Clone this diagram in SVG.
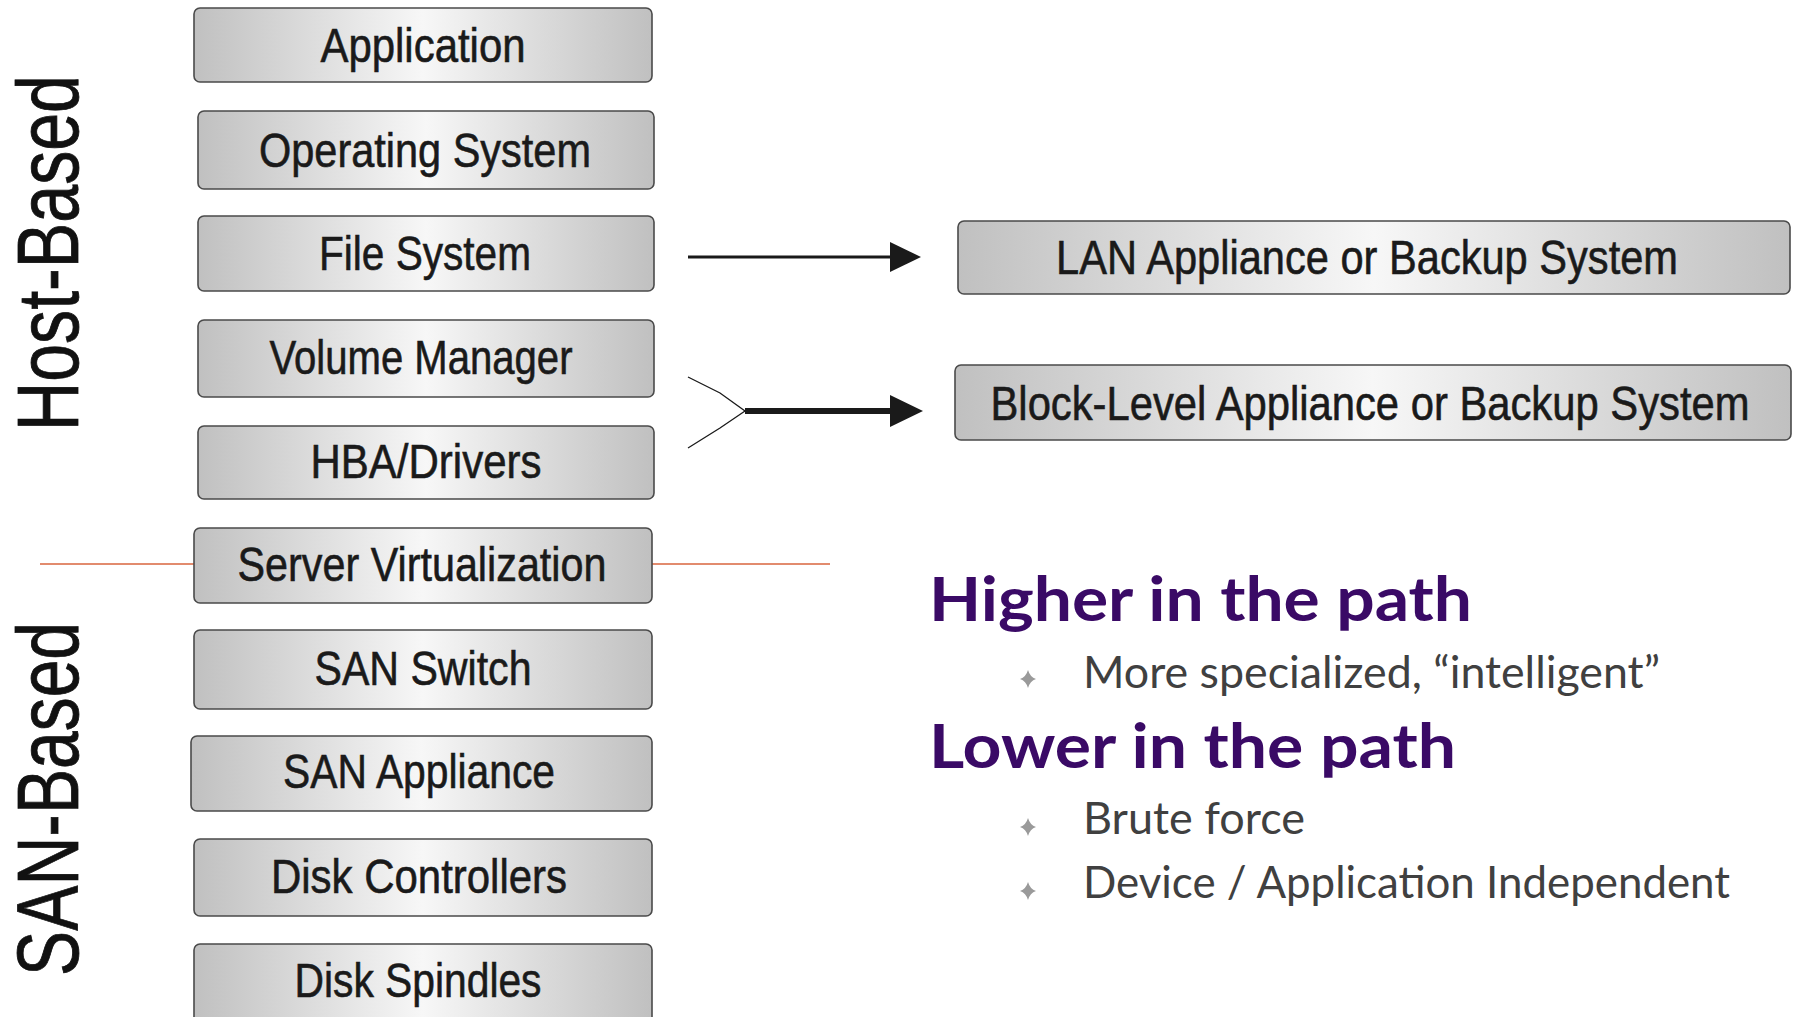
<svg xmlns="http://www.w3.org/2000/svg" width="1793" height="1017" viewBox="0 0 1793 1017">
<defs>
<linearGradient id="g" x1="0" y1="0" x2="1" y2="0">
<stop offset="0" stop-color="#c0c0c0"/>
<stop offset="0.5" stop-color="#f7f7f7"/>
<stop offset="1" stop-color="#c0c0c0"/>
</linearGradient>
<style>
.box{fill:url(#g);stroke:#4a4a4a;stroke-width:1.6}
.bt{font-family:"Liberation Sans",Arial,sans-serif;font-size:48px;fill:#1a1a1a;stroke:#1a1a1a;stroke-width:0.6;text-anchor:middle}
.side{font-family:"Liberation Sans",Arial,sans-serif;font-size:88px;fill:#111;stroke:#111;stroke-width:0.8}
.hd{font-family:Lato,"Open Sans",sans-serif;font-weight:bold;font-size:62px;fill:#3a0a66}
.it{font-family:Lato,"Open Sans",sans-serif;font-size:45px;fill:#404040}
.bul{fill:#9a9a9a}
</style>
</defs>
<rect width="1793" height="1017" fill="#ffffff"/>

<g id="label-host"><text class="side" transform="translate(78,431) rotate(-90)" textLength="356" lengthAdjust="spacingAndGlyphs">Host-Based</text></g>
<g id="label-san"><text class="side" transform="translate(78,976) rotate(-90)" textLength="354" lengthAdjust="spacingAndGlyphs">SAN-Based</text></g>

<g id="connectors">
<line x1="40" y1="564" x2="194" y2="564" stroke="#d8643e" stroke-width="1.5"/>
<line x1="652" y1="564" x2="830" y2="564" stroke="#d8643e" stroke-width="1.5"/>
<line x1="688" y1="257" x2="892" y2="257" stroke="#1a1a1a" stroke-width="3"/>
<polygon points="890,242 921,257 890,272" fill="#1a1a1a"/>
<polyline points="688,377 720,393 745,411 720,428 688,448" fill="none" stroke="#1a1a1a" stroke-width="1.3"/>
<line x1="745" y1="411" x2="892" y2="411" stroke="#1a1a1a" stroke-width="6"/>
<polygon points="890,395 923,411 890,427" fill="#1a1a1a"/>
</g>

<g id="n-application"><rect class="box" x="194" y="8" width="458" height="74" rx="6"/><text class="bt" x="423" y="62" textLength="205" lengthAdjust="spacingAndGlyphs">Application</text></g>
<g id="n-os"><rect class="box" x="198" y="111" width="456" height="78" rx="6"/><text class="bt" x="425" y="167" textLength="332" lengthAdjust="spacingAndGlyphs">Operating System</text></g>
<g id="n-fs"><rect class="box" x="198" y="216" width="456" height="75" rx="6"/><text class="bt" x="425" y="270" textLength="212" lengthAdjust="spacingAndGlyphs">File System</text></g>
<g id="n-vm"><rect class="box" x="198" y="320" width="456" height="77" rx="6"/><text class="bt" x="421" y="374" textLength="303" lengthAdjust="spacingAndGlyphs">Volume Manager</text></g>
<g id="n-hba"><rect class="box" x="198" y="426" width="456" height="73" rx="6"/><text class="bt" x="426" y="478" textLength="231" lengthAdjust="spacingAndGlyphs">HBA/Drivers</text></g>
<g id="n-sv"><rect class="box" x="194" y="528" width="458" height="75" rx="6"/><text class="bt" x="422" y="581" textLength="369" lengthAdjust="spacingAndGlyphs">Server Virtualization</text></g>
<g id="n-sw"><rect class="box" x="194" y="630" width="458" height="79" rx="6"/><text class="bt" x="423" y="685" textLength="217" lengthAdjust="spacingAndGlyphs">SAN Switch</text></g>
<g id="n-sa"><rect class="box" x="191" y="736" width="461" height="75" rx="6"/><text class="bt" x="419" y="788" textLength="272" lengthAdjust="spacingAndGlyphs">SAN Appliance</text></g>
<g id="n-dc"><rect class="box" x="194" y="839" width="458" height="77" rx="6"/><text class="bt" x="419" y="893" textLength="296" lengthAdjust="spacingAndGlyphs">Disk Controllers</text></g>
<g id="n-ds"><rect class="box" x="194" y="944" width="458" height="90" rx="6"/><text class="bt" x="418" y="997" textLength="247" lengthAdjust="spacingAndGlyphs">Disk Spindles</text></g>

<g id="n-lan"><rect class="box" x="958" y="221" width="832" height="73" rx="6"/><text class="bt" x="1367" y="274" textLength="622" lengthAdjust="spacingAndGlyphs">LAN Appliance or Backup System</text></g>
<g id="n-block"><rect class="box" x="955" y="365" width="836" height="75" rx="6"/><text class="bt" x="1370" y="420" textLength="759" lengthAdjust="spacingAndGlyphs">Block-Level Appliance or Backup System</text></g>

<g id="notes">
<text class="hd" x="929" y="621" textLength="543" lengthAdjust="spacingAndGlyphs">Higher in the path</text>
<path class="bul" d="M1028,670 Q1030,677 1036,679 Q1030,681 1028,688 Q1026,681 1020,679 Q1026,677 1028,670Z"/>
<text class="it" x="1083" y="688" textLength="577" lengthAdjust="spacingAndGlyphs">More specialized, “intelligent”</text>
<text class="hd" x="929" y="768" textLength="527" lengthAdjust="spacingAndGlyphs">Lower in the path</text>
<path class="bul" d="M1028,818 Q1030,825 1036,827 Q1030,829 1028,836 Q1026,829 1020,827 Q1026,825 1028,818Z"/>
<text class="it" x="1083" y="834" textLength="222" lengthAdjust="spacingAndGlyphs">Brute force</text>
<path class="bul" d="M1028,882 Q1030,889 1036,891 Q1030,893 1028,900 Q1026,893 1020,891 Q1026,889 1028,882Z"/>
<text class="it" x="1083" y="898" textLength="647" lengthAdjust="spacingAndGlyphs">Device / Application Independent</text>
</g>
</svg>
